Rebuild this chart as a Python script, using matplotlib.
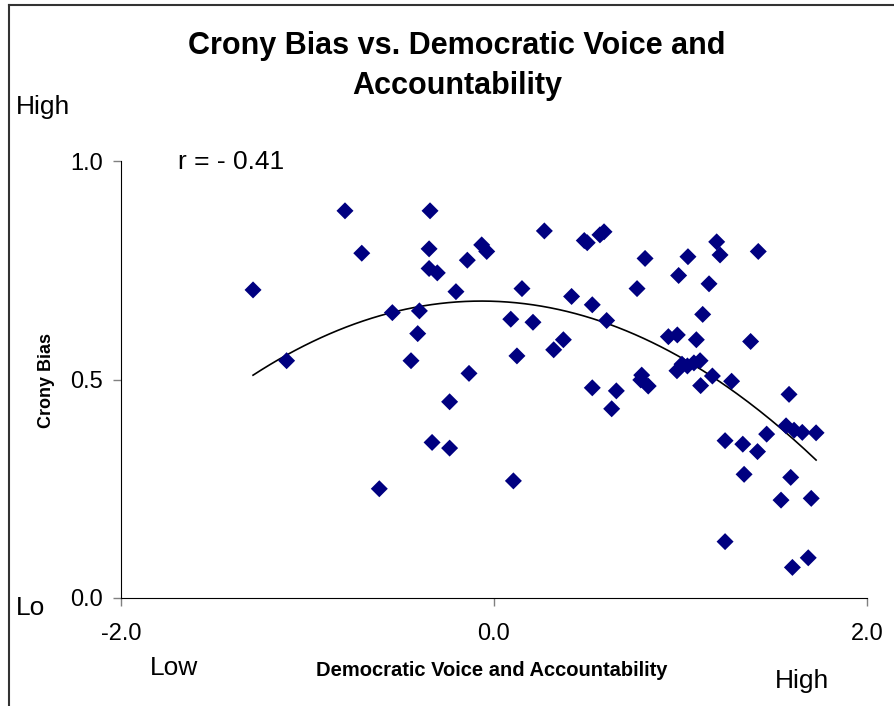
import numpy as np
import matplotlib
matplotlib.use("Agg")
import matplotlib.pyplot as plt
from matplotlib.lines import Line2D

plt.rcParams['font.family'] = ['Liberation Sans', 'DejaVu Sans']

# Data
voice = [-1.292, -1.112, -0.799, -0.709, -0.615, -0.545, -0.445, -0.409, -0.400, -0.348,
         -0.348, -0.343, -0.332, -0.304, -0.238, -0.238, -0.204, -0.143, -0.134, -0.066,
         -0.039, 0.090, 0.104, 0.123, 0.150, 0.209, 0.270, 0.320, 0.372, 0.416,
         0.484, 0.500, 0.527, 0.527, 0.568, 0.590, 0.604, 0.631, 0.656, 0.767,
         0.787, 0.792, 0.810, 0.827, 0.935, 0.983, 0.990, 0.981, 1.008, 1.037,
         1.040, 1.072, 1.085, 1.105, 1.108, 1.119, 1.153, 1.171, 1.194, 1.212,
         1.239, 1.239, 1.274, 1.334, 1.341, 1.376, 1.417, 1.413, 1.462, 1.539,
         1.566, 1.582, 1.591, 1.600, 1.609, 1.653, 1.685, 1.701, 1.727]
crony = [0.705, 0.543, 0.886, 0.789, 0.250, 0.653, 0.543, 0.605, 0.657, 0.799,
         0.754, 0.886, 0.356, 0.744, 0.449, 0.343, 0.701, 0.773, 0.514, 0.808,
         0.793, 0.638, 0.268, 0.554, 0.708, 0.631, 0.840, 0.568, 0.591, 0.690,
         0.818, 0.813, 0.671, 0.481, 0.831, 0.838, 0.635, 0.433, 0.474, 0.708,
         0.499, 0.510, 0.777, 0.485, 0.598, 0.602, 0.738, 0.520, 0.535, 0.531,
         0.781, 0.538, 0.591, 0.543, 0.486, 0.649, 0.719, 0.508, 0.815, 0.785,
         0.360, 0.129, 0.496, 0.352, 0.283, 0.587, 0.793, 0.335, 0.375, 0.224,
         0.394, 0.466, 0.276, 0.070, 0.384, 0.379, 0.092, 0.228, 0.378]

x_ticks = [-2.0, 0.0, 2.0]
y_ticks = [0.0, 0.5, 1.0]

fig = plt.figure(figsize=(8.94, 7.06), dpi=100)
W, H = 894, 706
ax = fig.add_axes([121 / W, 1 - 598 / H, (867 - 121) / W, (598 - 161) / H])

ax.scatter(voice, crony, marker='D', s=75, color='#000080', edgecolors='none', zorder=3)

# polynomial (order 2) trendline
coef = np.polyfit(voice, crony, 2)
xs = np.linspace(min(voice), max(voice), 200)
ax.plot(xs, np.polyval(coef, xs), color='black', lw=1.2, zorder=2)

ax.set_xlim(-2, 2)
ax.set_ylim(0, 1)
ax.set_xticks(x_ticks)
ax.set_yticks(y_ticks)
ax.set_xticklabels([f"{v:.1f}" for v in x_ticks], fontsize=17)
ax.set_yticklabels([f"{v:.1f}" for v in y_ticks], fontsize=17)
for s in ['top', 'right']:
    ax.spines[s].set_visible(False)
ax.spines['left'].set_color('black')
ax.spines['bottom'].set_color('black')
ax.tick_params(axis='both', direction='out', length=6, width=1, color='#808080')
ax.tick_params(axis='y', pad=7)
ax.tick_params(axis='x', pad=12)

ax.set_ylabel("Crony Bias", fontsize=13, fontweight='bold', labelpad=0)
ax.yaxis.set_label_coords(-66 / (867 - 121), (598 - 380) / (598 - 161))

fig.text(457 / W, 1 - 46 / H, "Crony Bias vs. Democratic Voice and", ha='center', va='center',
         fontsize=22, fontweight='bold')
fig.text(457 / W, 1 - 86 / H, "Accountability", ha='center', va='center',
         fontsize=22, fontweight='bold')
fig.text(16 / W, 1 - 107 / H, "High", ha='left', va='center', fontsize=19)
fig.text(16 / W, 1 - 608 / H, "Lo", ha='left', va='center', fontsize=19)
fig.text(150 / W, 1 - 668 / H, "Low", ha='left', va='center', fontsize=19)
fig.text(775 / W, 1 - 681 / H, "High", ha='left', va='center', fontsize=19)
fig.text(492 / W, 1 - 670 / H, "Democratic Voice and Accountability", ha='center', va='center',
         fontsize=14.5, fontweight='bold')
fig.text(178 / W, 1 - 162 / H, "r = - 0.41", ha='left', va='center', fontsize=19)

# outer frame (left and top)
fig.add_artist(Line2D([9 / W, 9 / W], [0, 1 - 5 / H], color='#333333', lw=1.5, transform=fig.transFigure))
fig.add_artist(Line2D([9 / W, 1], [1 - 5 / H, 1 - 5 / H], color='#333333', lw=1.5, transform=fig.transFigure))

fig.savefig("out.png", dpi=100)
